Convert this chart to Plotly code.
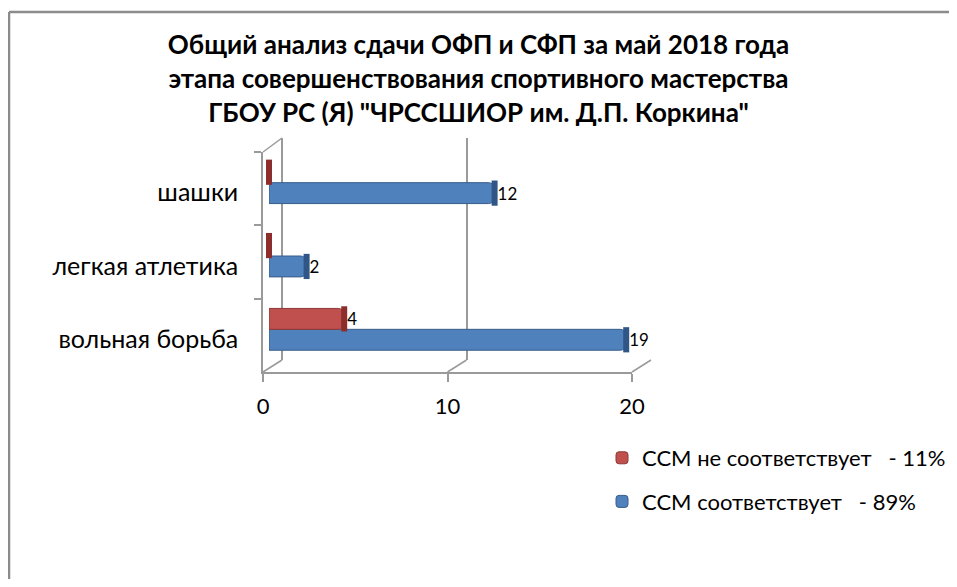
import plotly.graph_objects as go

# the page keeps the browser's 8px body margin, so the figure is drawn 16px smaller
VIEW_W, VIEW_H = 957, 587
OFF = 8
W, H = VIEW_W - 2 * OFF, VIEW_H - 2 * OFF

# data
sports = ["вольная борьба", "легкая атлетика", "шашки"]
ok_vals = [19, 2, 12]
not_ok_vals = [4, 0, 0]
ok_name = "ССМ соответствует\u00a0\u00a0\u00a0- 89%"
not_ok_name = "ССМ не соответствует\u00a0\u00a0\u00a0- 11%"
x_ticks = [0, 10, 20]
title_lines = [
    "Общий анализ сдачи ОФП и СФП за май 2018 года",
    "этапа совершенствования спортивного мастерства",
    'ГБОУ РС (Я) "ЧРССШИОР им. Д.П. Коркина"',
]

FONT = "Lato"
GRID = "#9a9a9a"
BLUE, BLUE_DK = "#4f81bd", "#2f5687"
RED, RED_DK = "#c0504d", "#8b2e2c"


# window pixel -> paper fraction
def fx(p):
    return (p - OFF) / W


def fy(p):
    return 1 - (p - OFF) / H


# window-pixel boxes of the pseudo-3d chart: back wall, front axes, bars
back = dict(x0=282, x1=651, y0=138, y1=360)
front = dict(x0=263, x1=632, y0=152, y1=372)
bars = dict(x0=269, x1=645, y0=146, y1=366)

fig = go.Figure()

# back wall (gridlines only)
fig.add_trace(go.Scatter(x=[0, 20], y=[0, 1], mode="markers", marker=dict(opacity=0),
                         hoverinfo="skip", showlegend=False, xaxis="x", yaxis="y"))
# front axes (lines, ticks, labels)
fig.add_trace(go.Scatter(x=[0] * len(sports), y=sports, mode="markers", marker=dict(opacity=0),
                         hoverinfo="skip", showlegend=False, xaxis="x2", yaxis="y2"))

# bars
fig.add_trace(go.Bar(
    y=sports, x=ok_vals, orientation="h", name=ok_name, legendgroup="ok", legendrank=2,
    marker=dict(color=BLUE, line=dict(color="#385d8a", width=1), cornerradius=6),
    text=[str(v) if v else "" for v in ok_vals], textposition="outside",
    textfont=dict(size=17, color="black"), cliponaxis=False,
    xaxis="x3", yaxis="y3",
))
fig.add_trace(go.Bar(
    y=sports, x=not_ok_vals, orientation="h", name=not_ok_name, legendgroup="not", legendrank=1,
    marker=dict(color=RED, line=dict(color="#8c3836", width=1), cornerradius=6),
    text=[str(v) if v else "" for v in not_ok_vals], textposition="outside",
    textfont=dict(size=17, color="black"), cliponaxis=False,
    xaxis="x3", yaxis="y3",
))
# cylinder end caps
for vals, col, grp in [(ok_vals, BLUE_DK, "ok"), (not_ok_vals, RED_DK, "not")]:
    fig.add_trace(go.Scatter(
        y=sports, x=vals, orientation="h", mode="markers", legendgroup=grp,
        marker=dict(symbol="line-ns", size=18, line=dict(color=col, width=6)),
        hoverinfo="skip", showlegend=False, cliponaxis=False,
        xaxis="x3", yaxis="y3",
    ))

fig.update_layout(
    width=W, height=H,
    margin=dict(l=0, r=0, t=0, b=0, autoexpand=False),
    paper_bgcolor="white", plot_bgcolor="rgba(0,0,0,0)",
    font=dict(family=FONT, size=20, color="black"),
    title=dict(text="<br>".join(f"<b>{t}</b>" for t in title_lines),
               x=0.5, xanchor="center", y=fy(54), yanchor="top",
               font=dict(family=FONT, size=26)),
    barmode="group", bargap=0.43, bargroupgap=0,
    scattermode="group", scattergap=0.43,
    showlegend=True,
    legend=dict(x=fx(951), y=fy(437), xanchor="right", yanchor="top",
                traceorder="grouped", tracegroupgap=12,
                font=dict(size=22), bgcolor="rgba(0,0,0,0)"),
    xaxis=dict(domain=[fx(back["x0"]), fx(back["x1"])], range=[0, 20], anchor="y",
               tickvals=x_ticks, showticklabels=False, showgrid=True, gridcolor=GRID,
               gridwidth=1.5, zeroline=True, zerolinecolor=GRID, zerolinewidth=1.5, fixedrange=True),
    yaxis=dict(domain=[fy(back["y1"]), fy(back["y0"])], range=[0, 1], anchor="x",
               visible=False, fixedrange=True),
    xaxis2=dict(domain=[fx(front["x0"]), fx(front["x1"])], range=[0, 20], anchor="y2",
                tickvals=x_ticks, showgrid=False, zeroline=False,
                showline=True, linecolor=GRID, linewidth=1.5,
                ticks="outside", ticklen=8, tickcolor=GRID, tickwidth=1.5,
                ticklabelstandoff=6, tickfont=dict(size=22), fixedrange=True),
    yaxis2=dict(domain=[fy(front["y1"]), fy(front["y0"])], anchor="x2",
                type="category", categoryarray=sports, range=[-0.5, len(sports) - 0.5],
                showgrid=False, zeroline=False, showline=True, linecolor=GRID, linewidth=1.5,
                ticks="outside", ticklen=7, tickcolor=GRID, tickwidth=1.5, tickson="boundaries",
                ticklabelstandoff=18, ticklabelshift=4, tickfont=dict(size=25), fixedrange=True),
    xaxis3=dict(domain=[fx(bars["x0"]), fx(bars["x1"])], range=[0, 20], anchor="y3",
                visible=False, fixedrange=True),
    yaxis3=dict(domain=[fy(bars["y1"]), fy(bars["y0"])], anchor="x3",
                type="category", categoryarray=sports, range=[-0.5, len(sports) - 0.5],
                visible=False, fixedrange=True),
)

# 3d depth edges joining front axes to the back wall
edges = [(front["x0"], front["y0"], back["x0"], back["y0"]),
         (front["x0"], front["y1"], back["x0"], back["y1"])]
for t in x_ticks[1:]:
    fxp = front["x0"] + (front["x1"] - front["x0"]) * t / 20
    bxp = back["x0"] + (back["x1"] - back["x0"]) * t / 20
    edges.append((fxp, front["y1"], bxp, back["y1"]))
for x0, y0, x1, y1 in edges:
    fig.add_shape(type="line", xref="paper", yref="paper",
                  x0=fx(x0), y0=fy(y0), x1=fx(x1), y1=fy(y1),
                  line=dict(color=GRID, width=1.5), layer="below")

# chart border: only the top and left edges fall inside the picture
for x0, y0, x1, y1 in [(9, 12, VIEW_W + 20, 12), (9, 12, 9, VIEW_H + 20)]:
    fig.add_shape(type="line", xref="paper", yref="paper",
                  x0=fx(x0), y0=fy(y0), x1=fx(x1), y1=fy(y1),
                  line=dict(color="#8c8c8c", width=2.5), layer="above")

fig.write_html("out.html")
